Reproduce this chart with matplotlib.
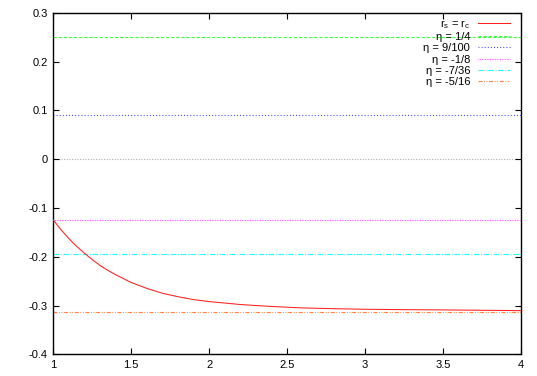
import matplotlib
matplotlib.use("Agg")
import matplotlib.pyplot as plt
from matplotlib.ticker import FormatStrFormatter, MultipleLocator

# Curve r_s = r_c
curve_x = [1.0, 1.05, 1.1, 1.15, 1.2, 1.25, 1.3, 1.35, 1.4, 1.45, 1.5, 1.6, 1.7,
           1.8, 1.9, 2.0, 2.2, 2.4, 2.6, 2.8, 3.0, 3.25, 3.5, 3.75, 4.0]
curve_y = [-0.125, -0.145, -0.163, -0.179, -0.193, -0.206, -0.218, -0.228, -0.237,
           -0.245, -0.253, -0.265, -0.275, -0.282, -0.288, -0.292, -0.298, -0.302,
           -0.305, -0.3065, -0.3077, -0.3085, -0.309, -0.3098, -0.3105]

# Horizontal eta levels
eta_labels = ["η = 1/4", "η = 9/100", "η = -1/8", "η = -7/36", "η = -5/16"]
eta_values = [1/4, 9/100, -1/8, -7/36, -5/16]
eta_colors = ["#40ff40", "#3030ff", "#ff40ff", "#20ffff", "#ff8040"]
eta_styles = [(0, (3.0, 1.6)), (0, (0.8, 2.0)), (0, (0.7, 0.8)),
              (0, (5.0, 1.5, 0.8, 1.5)), (0, (3.5, 1.5, 0.8, 1.5, 0.8, 1.5))]

x_range = [1, 4]
y_range = [-0.4, 0.3]

plt.rcParams['font.family'] = ['Liberation Sans', 'DejaVu Sans']
plt.rcParams['mathtext.fontset'] = 'custom'
plt.rcParams['mathtext.rm'] = 'Liberation Sans'

fig = plt.figure(figsize=(5.37, 3.76), dpi=100)
ax = fig.add_axes([0.0993, 0.0577, 0.9702 - 0.0993, 0.9662 - 0.0577])

# zero axis
ax.axhline(0, color="#a0a0a0", lw=0.8, ls=(0, (0.8, 1.6)), zorder=1)

ax.plot(curve_x, curve_y, color="#ff2020", lw=0.75,
        label=r"r$_\mathregular{s}$ = r$_\mathregular{c}$", zorder=3)
for lab, v, c, s in zip(eta_labels, eta_values, eta_colors, eta_styles):
    ax.axhline(v, color=c, lw=0.8, ls=s, label=lab, zorder=2)

ax.set_xlim(x_range)
ax.set_ylim(y_range)
ax.xaxis.set_major_locator(MultipleLocator(0.5))
ax.yaxis.set_major_locator(MultipleLocator(0.1))
ax.xaxis.set_major_formatter(FormatStrFormatter('%g'))
ax.yaxis.set_major_formatter(FormatStrFormatter('%g'))
ax.tick_params(direction='in', length=4, width=0.8, top=True, right=True,
               labelsize=8, pad=4, colors='black')
for sp in ax.spines.values():
    sp.set_linewidth(1.0)
    sp.set_color('black')

leg = ax.legend(loc='upper right', bbox_to_anchor=(0.9765, 0.985), frameon=False,
                fontsize=8, markerfirst=False, handlelength=2.9, handletextpad=0.7,
                labelspacing=0.12, borderaxespad=0.0, borderpad=0.0)
for t in leg.get_texts():
    t.set_ha('right')

fig.savefig("out.png", dpi=100)
